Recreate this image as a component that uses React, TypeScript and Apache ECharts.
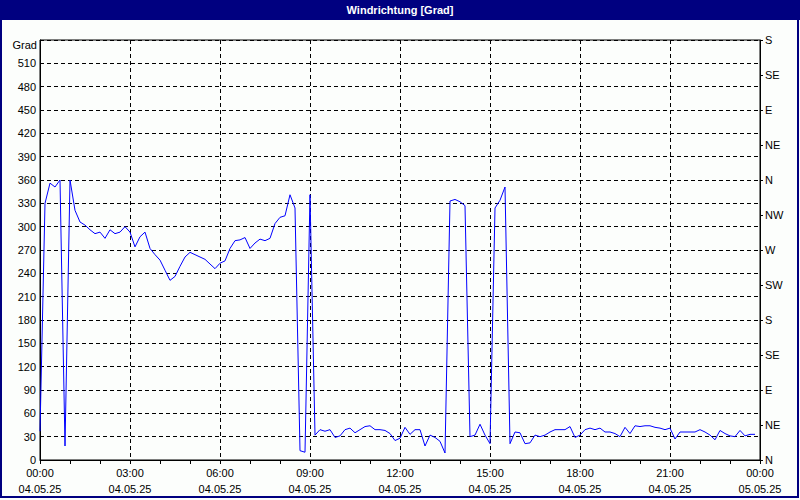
import React, { useEffect, useRef } from 'react';
import * as echarts from 'echarts';

const TITLE = 'Windrichtung [Grad]';
const UNIT_LABEL = 'Grad';
const STEP_MINUTES = 10;
// wind direction in degrees, one reading every 10 minutes from 00:00
const DIRECTION_DEG = [
  37, 330, 356, 351, 360, 18, 360, 321, 306, 302,
  296, 291, 293, 285, 296, 291, 293, 300, 293, 274,
  287, 293, 272, 264, 257, 244, 231, 236, 249, 261,
  267, 264, 261, 258, 252, 246, 253, 256, 272, 282,
  283, 286, 272, 279, 284, 282, 285, 304, 312, 314,
  341, 324, 12, 10, 341, 32, 39, 37, 39, 29,
  31, 39, 41, 35, 39, 43, 44, 39, 39, 38,
  34, 25, 28, 42, 33, 39, 39, 18, 32, 29,
  24, 9, 333, 335, 332, 327, 30, 32, 46, 32,
  21, 324, 334, 351, 21, 36, 35, 21, 22, 32,
  30, 32, 36, 39, 39, 39, 43, 29, 32, 39,
  41, 39, 41, 36, 36, 34, 30, 42, 34, 44,
  43, 44, 44, 42, 41, 39, 41, 27, 36, 36,
  36, 36, 39, 36, 32, 26, 38, 34, 31, 30,
  38, 31, 33, 33,
];
const COMPASS_LABELS = ['N', 'NE', 'E', 'SE', 'S', 'SW', 'W', 'NW', 'N', 'NE', 'E', 'SE', 'S'];
const DATE_LABELS = ['04.05.25', '05.05.25'];

const FONT = 'Liberation Sans';
const NAVY = '#000080';

export default function App() {
  const ref = useRef<HTMLDivElement>(null);
  useEffect(() => {
    document.body.style.margin = '0';
    const chart = echarts.init(ref.current!, null, { renderer: 'svg' });
    const data = DIRECTION_DEG.map((v, i) => [i * STEP_MINUTES, v]);
    const pad = (n: number) => (n < 10 ? '0' + n : '' + n);
    chart.setOption({
      animation: false,
      backgroundColor: '#fcfefc',
      textStyle: { fontFamily: FONT, fontSize: 11, color: '#000' },
      grid: {
        left: 40, right: 40, top: 40, bottom: 40,
        show: true, borderColor: '#000', borderWidth: 1, backgroundColor: 'transparent',
      },
      graphic: [
        { type: 'rect', shape: { x: 0, y: 0, width: 800, height: 20 }, style: { fill: NAVY }, silent: true },
        {
          type: 'text', x: 400, y: 10,
          style: { text: TITLE, fill: '#fff', font: `bold 11px "${FONT}"`, align: 'center', verticalAlign: 'middle' },
        },
        { type: 'rect', shape: { x: 1, y: 1, width: 797, height: 496 }, style: { fill: 'none', stroke: NAVY, lineWidth: 2 }, silent: true },
        {
          type: 'text', x: 37, y: 45,
          style: { text: UNIT_LABEL, fill: '#000', font: `11px "${FONT}"`, align: 'right', verticalAlign: 'middle' },
        },
      ],
      xAxis: {
        type: 'value', min: 0, max: 1440, interval: 180,
        axisLine: { show: true, lineStyle: { color: '#000', width: 1 } },
        axisTick: { show: true, length: 4, lineStyle: { color: '#000' } },
        minorTick: { show: true, splitNumber: 3, length: 4, lineStyle: { color: '#000' } },
        splitLine: { show: true, lineStyle: { color: '#000', type: [4, 3], width: 1 } },
        axisLabel: {
          margin: 5, lineHeight: 16, color: '#000', fontFamily: FONT, fontSize: 11,
          showMinLabel: true, showMaxLabel: true,
          formatter: (v: number) => {
            const h = Math.floor(v / 60) % 24;
            const d = DATE_LABELS[Math.floor(v / 1440)];
            return `${pad(h)}:00\n${d}`;
          },
        },
      },
      yAxis: [
        {
          type: 'value', min: 0, max: 540, interval: 30, position: 'left',
          axisLine: { show: true, lineStyle: { color: '#000', width: 1 } },
          axisTick: { show: false },
          splitLine: { show: true, lineStyle: { color: '#000', type: [4, 3], width: 1 } },
          axisLabel: {
            margin: 4, color: '#000', fontFamily: FONT, fontSize: 11,
            formatter: (v: number) => (v >= 540 ? '' : String(v)),
          },
        },
        {
          type: 'value', min: 0, max: 540, interval: 45, position: 'right',
          axisLine: { show: true, lineStyle: { color: '#000', width: 1 } },
          axisTick: { show: true, length: 3, lineStyle: { color: '#000' } },
          splitLine: { show: false },
          axisLabel: {
            margin: 5, color: '#000', fontFamily: FONT, fontSize: 11,
            formatter: (v: number) => COMPASS_LABELS[Math.round(v / 45)] ?? '',
          },
        },
      ],
      series: [
        {
          type: 'line', data, yAxisIndex: 0, showSymbol: false, symbol: 'none',
          lineStyle: { color: '#0000ff', width: 1 },
          silent: true,
        },
      ],
    });
    return () => chart.dispose();
  }, []);
  return <div ref={ref} style={{ width: 800, height: 500 }} />;
}
